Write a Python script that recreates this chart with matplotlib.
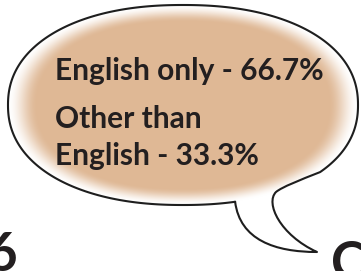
import numpy as np
import matplotlib.pyplot as plt
from matplotlib.path import Path
from matplotlib.patches import PathPatch

# bubble content
labels = ['English only', 'Other than', 'English']
shares = [66.7, 33.3]
# cut-off words at the bottom edge
edge_words = ['6', 'Ch']

W, H = 361, 271
fig = plt.figure(figsize=(W / 100, H / 100), dpi=100)
ax = fig.add_axes([0, 0, 1, 1])
ax.set_xlim(0, W)
ax.set_ylim(H, 0)
ax.axis('off')

# bubble body: a slightly boxy ellipse
cx, cy, a, b, n = 183, 105, 175, 100, 2.2
tan = np.array([223, 184, 149]) / 255

yy, xx = np.mgrid[0:H, 0:W] + 0.5
r = (np.abs((xx - cx) / a) ** n + np.abs((yy - cy) / b) ** n) ** (1 / n)
f = np.clip((1 - r) / 0.17, 0, 1)
f = f * f * (3 - 2 * f)
img = (1 - f[..., None]) + tan * f[..., None]
ax.imshow(img, extent=(0, W, H, 0), zorder=1, interpolation='bilinear')

# outline: ellipse arc with a gap at the lower right for the tail
t = np.linspace(0, 2 * np.pi, 2000, endpoint=False)
ex = cx + a * np.sign(np.cos(t)) * np.abs(np.cos(t)) ** (2 / n)
ey = cy + b * np.sign(np.sin(t)) * np.abs(np.sin(t)) ** (2 / n)
bottom = (t > 0) & (t < np.pi / 2)
ib = np.where(bottom)[0][np.argmin(np.abs(ex[bottom] - 235))]
ia = np.where(bottom)[0][np.argmin(np.abs(ex[bottom] - 320))]
idx = np.r_[ib:len(t), 0:ia + 1]
arc = np.column_stack([ex[idx], ey[idx]])

verts = [tuple(p) for p in arc]
codes = [Path.MOVETO] + [Path.LINETO] * (len(arc) - 1)
pb = verts[0]
tail = [(300, 180), (282, 187), (276, 192),
        (265, 203), (280, 235), (317, 252),
        (275, 252), (240, 240), pb]
verts += tail
codes += [Path.CURVE4] * len(tail)
ax.add_patch(PathPatch(Path(verts, codes), facecolor='none',
                       edgecolor='#1e1e1e', lw=1.5, zorder=3,
                       joinstyle='round', capstyle='round'))

tc = '#231f20'
font = dict(family=['Lato', 'DejaVu Sans'], fontweight='bold', color=tc,
            fontsize=21.5, va='baseline', ha='left', zorder=4)
ax.text(55, 80, f'{labels[0]} - {shares[0]}%', **font)
ax.text(55, 128, labels[1], **font)
ax.text(55, 165, f'{labels[2]} - {shares[1]}%', **font)

big = dict(font, fontsize=38)
ax.text(-13, 271, edge_words[0], **big)
ax.text(331, 280, edge_words[1], **big)

fig.savefig('out.png', dpi=100)
